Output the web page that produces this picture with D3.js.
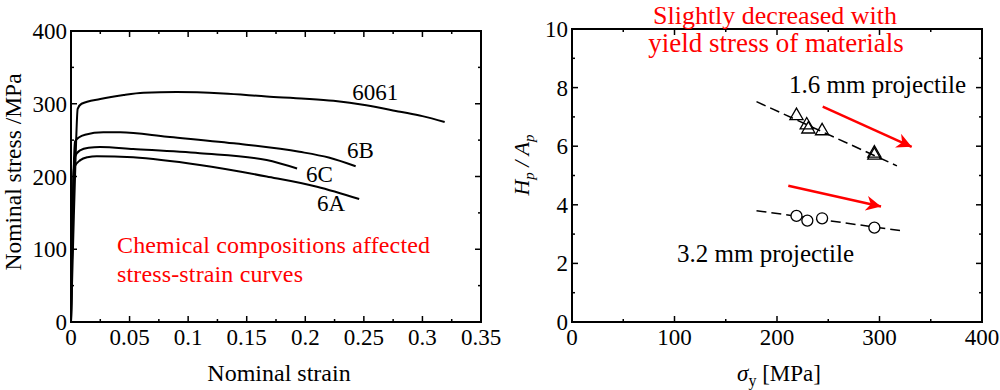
<!DOCTYPE html>
<html lang="en">
<head>
    <meta charset="UTF-8">
    <title>Stress-strain and Hp/Ap</title>
    <script src="https://d3js.org/d3.v7.min.js"></script>
    <style>
        body { margin: 0; background: #fff; }
    </style>
</head>
<body>
<svg id="chart" width="1000" height="390" font-family="'Liberation Serif', 'DejaVu Serif', serif"></svg>
<script>
// ---- left panel: nominal stress-strain curves ----
const curveNames = ['6061', '6B', '6C', '6A'];
const curve6061 = [[0, 0], [0.002, 120], [0.004, 230], [0.0057, 293], [0.009, 300], [0.025, 306.5], [0.045, 312], [0.062, 315], [0.09, 316], [0.13, 314], [0.167, 310], [0.2, 307], [0.224, 304], [0.252, 298], [0.281, 289], [0.3, 283], [0.319, 275]];
const curve6B = [[0, 0], [0.001, 100], [0.0025, 220], [0.0034, 248], [0.007, 254], [0.012, 257.5], [0.0276, 260.7], [0.042, 260.7], [0.082, 254.7], [0.139, 245.6], [0.195, 234], [0.22, 226], [0.243, 214]];
const curve6C = [[0, 0], [0.001, 100], [0.0025, 215], [0.003, 226], [0.0077, 236], [0.015, 239.5], [0.0248, 240.5], [0.053, 237.8], [0.11, 232], [0.167, 222.7], [0.193, 211]];
const curve6A = [[0, 0], [0.001, 100], [0.0022, 205], [0.0028, 213], [0.008, 222.5], [0.014, 226.5], [0.022, 228], [0.053, 226.4], [0.11, 215.8], [0.167, 200], [0.21, 186], [0.246, 169]];
const curves = [curve6061, curve6B, curve6C, curve6A];
const curveLabelPos = [[0.24, 305], [0.2356, 225], [0.2006, 192], [0.21, 152]];

const strainTicks = [0, 0.05, 0.1, 0.15, 0.2, 0.25, 0.3, 0.35];
const stressTicks = [0, 100, 200, 300, 400];

// ---- right panel: Hp/Ap vs yield stress ----
const sy16 = [219, 229, 230.6, 244, 295, 295];
const hp16 = [7.04, 6.72, 6.58, 6.52, 5.76, 5.69];
const sy32 = [219, 229.6, 244, 295];
const hp32 = [3.62, 3.46, 3.54, 3.22];
const fit16 = [[180, 7.52], [317, 5.33]];
const fit32 = [[180, 3.80], [320, 3.12]];
const arrow16 = [[244.6, 7.35], [331.4, 5.98]];
const arrow32 = [[211, 4.65], [301.5, 3.94]];
const syTicks = [0, 100, 200, 300, 400];
const hpTicks = [0, 2, 4, 6, 8, 10];

const svg = d3.select('#chart');
const defs = svg.append('defs');
defs.append('marker')
    .attr('id', 'redHead')
    .attr('viewBox', '0 0 10 10')
    .attr('refX', 10).attr('refY', 5)
    .attr('markerWidth', 15).attr('markerHeight', 15)
    .attr('markerUnits', 'userSpaceOnUse')
    .attr('orient', 'auto')
    .append('path')
    .attr('d', 'M0,0 L10,5 L0,10 L3,5 Z')
    .attr('fill', '#ff0000');

function frame(g, x, y, xMajor, xMinor, yMajor, yMinor, xFmt, yFmt) {
    const [x0, x1] = x.range();
    const [y0, y1] = y.range();
    // inward ticks on all four sides
    const tick = (val, isX, len) => {
        if (isX) {
            g.append('line').attr('x1', x(val)).attr('x2', x(val)).attr('y1', y0).attr('y2', y0 - len);
            g.append('line').attr('x1', x(val)).attr('x2', x(val)).attr('y1', y1).attr('y2', y1 + len);
        } else {
            g.append('line').attr('y1', y(val)).attr('y2', y(val)).attr('x1', x0).attr('x2', x0 + len);
            g.append('line').attr('y1', y(val)).attr('y2', y(val)).attr('x1', x1).attr('x2', x1 - len);
        }
    };
    xMinor.forEach(v => tick(v, true, 3));
    xMajor.forEach(v => tick(v, true, 6));
    yMinor.forEach(v => tick(v, false, 3));
    yMajor.forEach(v => tick(v, false, 6));
    g.selectAll('line').attr('stroke', '#000').attr('stroke-width', 1.5);
    g.append('rect')
        .attr('x', x0).attr('y', y1)
        .attr('width', x1 - x0).attr('height', y0 - y1)
        .attr('fill', 'none').attr('stroke', '#000').attr('stroke-width', 2);
    g.selectAll('.xl').data(xMajor).join('text')
        .attr('x', d => x(d)).attr('y', y0 + 23)
        .attr('text-anchor', 'middle').attr('font-size', 23)
        .text(xFmt);
    g.selectAll('.yl').data(yMajor).join('text')
        .attr('x', x0 - 4).attr('y', d => y(d) + 8)
        .attr('text-anchor', 'end').attr('font-size', 23)
        .text(yFmt);
}

// left panel
const xL = d3.scaleLinear().domain([0, 0.35]).range([71, 481]);
const yL = d3.scaleLinear().domain([0, 400]).range([322, 31]);
const gL = svg.append('g');
frame(gL, xL, yL, strainTicks, d3.range(0.025, 0.35, 0.05), stressTicks, d3.range(50, 400, 100),
    d => d === 0 ? '0' : String(d), d => String(d));

const line = d3.line().x(d => xL(d[0])).y(d => yL(d[1])).curve(d3.curveMonotoneX);
gL.selectAll('.curve').data(curves).join('path')
    .attr('d', line)
    .attr('fill', 'none').attr('stroke', '#000').attr('stroke-width', 2);
gL.selectAll('.clab').data(curveNames).join('text')
    .attr('x', (d, i) => xL(curveLabelPos[i][0]))
    .attr('y', (d, i) => yL(curveLabelPos[i][1]))
    .attr('font-size', 23)
    .text(d => d);

gL.append('text')
    .attr('transform', 'translate(21,172) rotate(-90)')
    .attr('text-anchor', 'middle').attr('font-size', 23.5)
    .text('Nominal stress /MPa');
gL.append('text')
    .attr('x', 279).attr('y', 381)
    .attr('text-anchor', 'middle').attr('font-size', 24)
    .text('Nominal strain');
gL.append('text')
    .attr('x', 117).attr('y', 253).attr('fill', '#ff0000').attr('font-size', 24)
    .attr('textLength', 313).attr('lengthAdjust', 'spacing')
    .text('Chemical compositions affected');
gL.append('text')
    .attr('x', 117).attr('y', 282).attr('fill', '#ff0000').attr('font-size', 24)
    .attr('textLength', 186).attr('lengthAdjust', 'spacing')
    .text('stress-strain curves');

// right panel
const xR = d3.scaleLinear().domain([0, 400]).range([572, 982]);
const yR = d3.scaleLinear().domain([0, 10]).range([322, 29]);
const gR = svg.append('g');
frame(gR, xR, yR, syTicks, d3.range(50, 400, 100), hpTicks, d3.range(1, 10, 2),
    d => String(d), d => String(d));

const fitLine = d3.line().x(d => xR(d[0])).y(d => yR(d[1]));
gR.selectAll('.fit').data([fit16, fit32]).join('path')
    .attr('d', fitLine)
    .attr('fill', 'none').attr('stroke', '#000').attr('stroke-width', 1.5)
    .attr('stroke-dasharray', '10,5');

const tri = d3.symbol().type(d3.symbolTriangle).size(75);
gR.selectAll('.tri').data(sy16).join('path')
    .attr('transform', (d, i) => `translate(${xR(d)},${yR(hp16[i])})`)
    .attr('d', tri)
    .attr('fill', 'none')
    .attr('stroke', '#000').attr('stroke-width', 1.3);
gR.selectAll('.circ').data(sy32).join('circle')
    .attr('cx', d => xR(d)).attr('cy', (d, i) => yR(hp32[i]))
    .attr('r', 5.5).attr('fill', '#fff')
    .attr('stroke', '#000').attr('stroke-width', 1.3);

gR.selectAll('.arr').data([arrow16, arrow32]).join('line')
    .attr('x1', d => xR(d[0][0])).attr('y1', d => yR(d[0][1]))
    .attr('x2', d => xR(d[1][0])).attr('y2', d => yR(d[1][1]))
    .attr('stroke', '#ff0000').attr('stroke-width', 2.5)
    .attr('marker-end', 'url(#redHead)');

gR.append('text')
    .attr('x', 789).attr('y', 93).attr('font-size', 25)
    .text('1.6 mm projectile');
gR.append('text')
    .attr('x', 677).attr('y', 262).attr('font-size', 25)
    .text('3.2 mm projectile');
gR.append('text')
    .attr('x', 775).attr('y', 24).attr('text-anchor', 'middle')
    .attr('fill', '#ff0000').attr('font-size', 26)
    .text('Slightly decreased with');
gR.append('text')
    .attr('x', 776).attr('y', 52).attr('text-anchor', 'middle')
    .attr('fill', '#ff0000').attr('font-size', 27)
    .text('yield stress of materials');

const yt = gR.append('text')
    .attr('transform', 'translate(529,165) rotate(-90)')
    .attr('text-anchor', 'middle').attr('font-size', 22).attr('font-style', 'italic');
yt.append('tspan').text('H');
yt.append('tspan').attr('font-size', 15).attr('dy', 5).text('p');
yt.append('tspan').attr('dy', -5).text(' / A');
yt.append('tspan').attr('font-size', 15).attr('dy', 5).text('p');

const xt = gR.append('text')
    .attr('x', 779).attr('y', 381)
    .attr('text-anchor', 'middle').attr('font-size', 23);
xt.append('tspan').attr('font-style', 'italic').text('σ');
xt.append('tspan').attr('font-size', 16).attr('dy', 5).text('y');
xt.append('tspan').attr('dy', -5).text(' [MPa]');
</script>
</body>
</html>
